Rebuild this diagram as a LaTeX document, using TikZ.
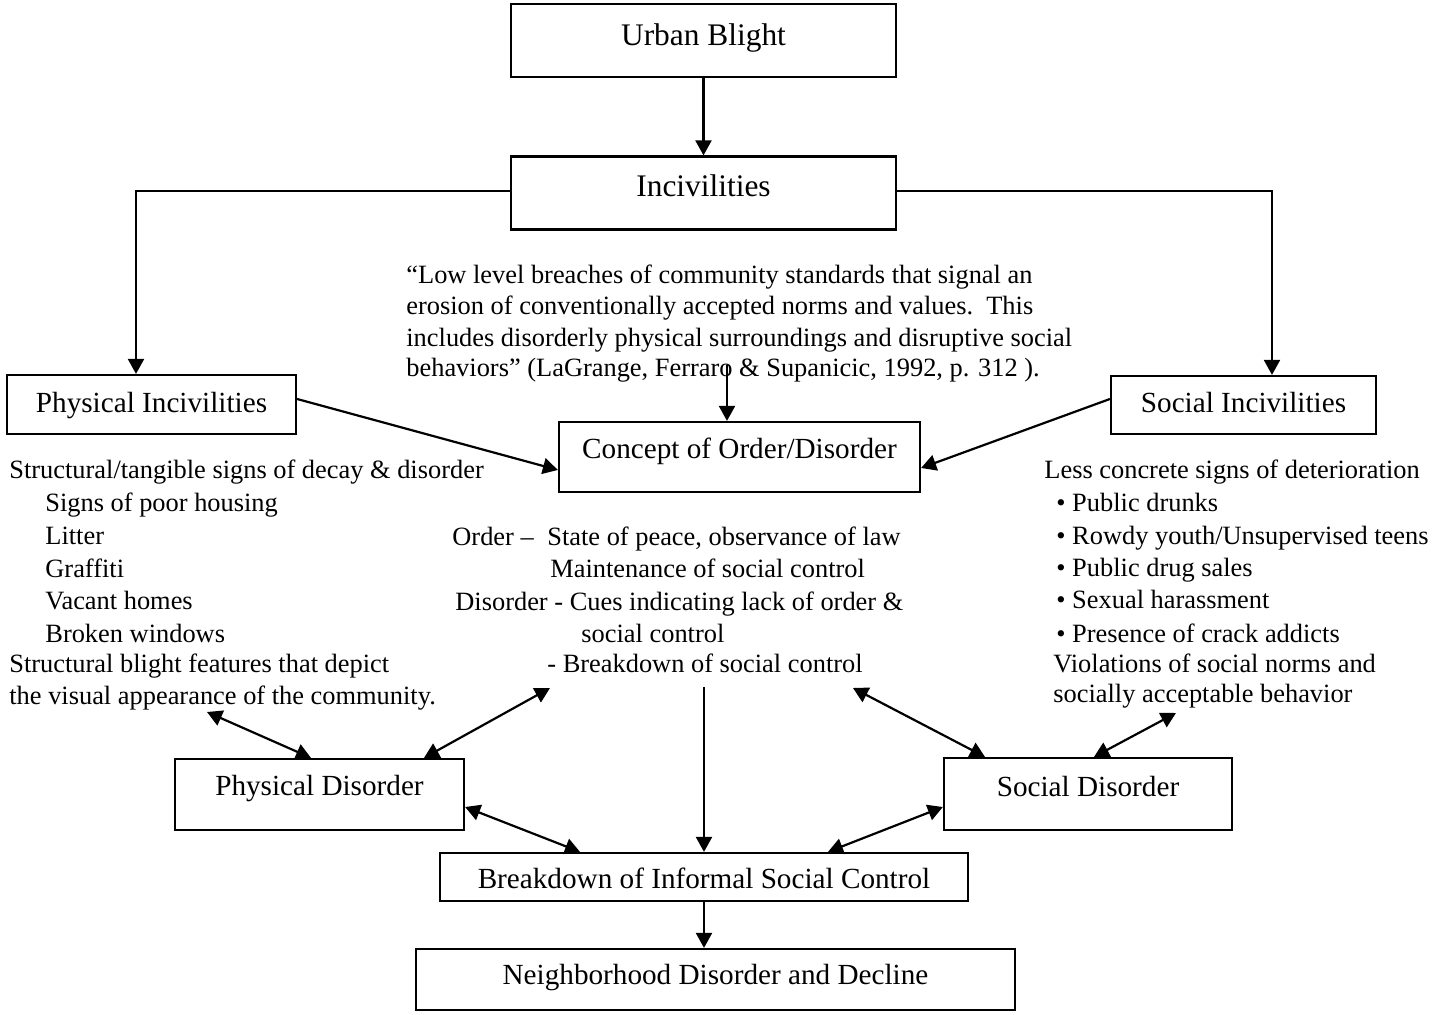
\documentclass[tikz,border=0pt]{standalone}
\usepackage{fontspec}
\setmainfont{Liberation Serif}
\usetikzlibrary{arrows.meta}
\newcommand\bigbxfont{\fontsize{15.7pt}{18pt}\selectfont}
\newcommand\bxfont{\fontsize{14.6pt}{17pt}\selectfont}
\newcommand\bdfont{\fontsize{13.2pt}{16pt}\selectfont}
\tikzset{
  box/.style={draw, line width=1.1pt, inner sep=0pt, font=\bxfont},
  txt/.style={anchor=base west, inner sep=0pt, font=\bdfont},
  arr/.style={line width=1.1pt, -{Triangle[length=7.5pt,width=8pt]}},
  darr/.style={line width=1.1pt, {Triangle[length=7.5pt,width=8pt]}-{Triangle[length=7.5pt,width=8pt]}},
  plain/.style={line width=1.1pt}
}
\begin{document}
\begin{tikzpicture}[x=0.5pt,y=-0.5pt]
\useasboundingbox (0,0) rectangle (1448,1015);

% boxes
\node[box, font=\bigbxfont, minimum width=192.5pt, minimum height=36.5pt, text height=11.35pt, text depth=6.65pt] (ub) at (703.5,40.5) {Urban Blight};
\node[box, font=\bigbxfont, minimum width=192.5pt, minimum height=36.5pt, text height=10.85pt, text depth=7.15pt] (inc) at (703.5,193) {Incivilities};
\node[box, minimum width=144.5pt, minimum height=29.5pt, text height=13.25pt, text depth=4.75pt] (pi) at (151.5,404.5) {Physical Incivilities};
\node[box, minimum width=132.5pt, minimum height=29pt, text height=13pt, text depth=5pt] (si) at (1243.5,405) {Social Incivilities};
\node[box, minimum width=180.5pt, minimum height=35pt, text height=10pt, text depth=8pt] (cod) at (739.5,457) {Concept of Order/Disorder};
\node[box, minimum width=144.5pt, minimum height=35.5pt, text height=9.75pt, text depth=8.25pt] (pd) at (319.5,794.5) {Physical Disorder};
\node[box, minimum width=144pt, minimum height=36pt, text height=10.5pt, text depth=7.5pt] (sd) at (1088,794) {Social Disorder};
\node[box, minimum width=264pt, minimum height=24pt, text height=15pt, text depth=3pt] (bisc) at (704,877) {Breakdown of Informal Social Control};
\node[box, minimum width=299.5pt, minimum height=30.5pt, text height=11.75pt, text depth=6.25pt] (nd) at (715.5,979.5) {Neighborhood Disorder and Decline};

% quote
\node[txt] (q1) at (406,284) {“Low level breaches of community standards that signal an};
\node[txt] (q2) at (406,315) {erosion of conventionally accepted norms and values.\ \ This};
\node[txt] (q3) at (406,347) {includes disorderly physical surroundings and disruptive social};
\node[txt] (q4) at (406,377) {behaviors” (LaGrange, Ferraro \& Supanicic, 1992, p. 312 ).};

% left block
\node[txt] (l1) at (9,479) {Structural/tangible signs of decay \& disorder};
\node[txt] (l2) at (45,512) {Signs of poor housing};
\node[txt] (l3) at (45,545) {Litter};
\node[txt] (l4) at (45,578) {Graffiti};
\node[txt] (l5) at (45,610) {Vacant homes};
\node[txt] (l6) at (45,643) {Broken windows};
\node[txt] (l7) at (9,673) {Structural blight features that depict};
\node[txt] (l8) at (9,705) {the visual appearance of the community.};

% centre block
\node[txt] (c1) at (452,546) {Order –\hspace{6.8pt}State of peace, observance of law};
\node[txt] (c2) at (550,578) {Maintenance of social control};
\node[txt] (c3) at (455,611) {Disorder - Cues indicating lack of order \&};
\node[txt] (c4) at (581,643) {social control};
\node[txt] (c5) at (547,673) {- Breakdown of social control};

% right block
\node[txt] (r1) at (1044,479) {Less concrete signs of deterioration};
\node[txt] (r2) at (1056,512) {• Public drunks};
\node[txt] (r3) at (1056,545) {• Rowdy youth/Unsupervised teens};
\node[txt] (r4) at (1056,577) {• Public drug sales};
\node[txt] (r5) at (1056,609) {• Sexual harassment};
\node[txt] (r6) at (1056,643) {• Presence of crack addicts};
\node[txt] (r7) at (1053,673) {Violations of social norms and};
\node[txt] (r8) at (1053,703) {socially acceptable behavior};

% free ends
\coordinate (qa) at (727,365);
\coordinate (la) at (207,712);
\coordinate (ca) at (550,688);
\coordinate (cb) at (853,688);
\coordinate (cv) at (704,687);
\coordinate (ra) at (1176,713);

% connectors
\draw[arr] (ub) -- (inc);
\draw[arr] ([yshift=1pt]inc.west) -| ([xshift=-7.75pt]pi.north);
\draw[arr] ([yshift=1pt]inc.east) -| ([xshift=14.25pt]si.north);
\draw[arr] (qa) -- (qa |- cod.north);
\draw[arr] ([yshift=2.75pt]pi.east) -- ([yshift=-6.5pt]cod.west);
\draw[arr] ([yshift=3pt]si.west) -- ([yshift=-5.5pt]cod.east);
\draw[darr] (la) -- ([xshift=-4.25pt]pd.north);
\draw[darr] (ca) -- ([xshift=52.25pt]pd.north);
\draw[darr] (cb) -- ([xshift=-51.5pt]sd.north);
\draw[darr] (ra) -- ([xshift=3pt]sd.north);
\draw[darr] ([yshift=-6.25pt]pd.east) -- ([xshift=-62pt]bisc.north);
\draw[darr] ([yshift=-6.5pt]sd.west) -- ([xshift=62pt]bisc.north);
\draw[arr] (cv) -- (cv |- bisc.north);
\draw[arr] (bisc.south) -- (bisc.south |- nd.north);
\end{tikzpicture}
\end{document}
